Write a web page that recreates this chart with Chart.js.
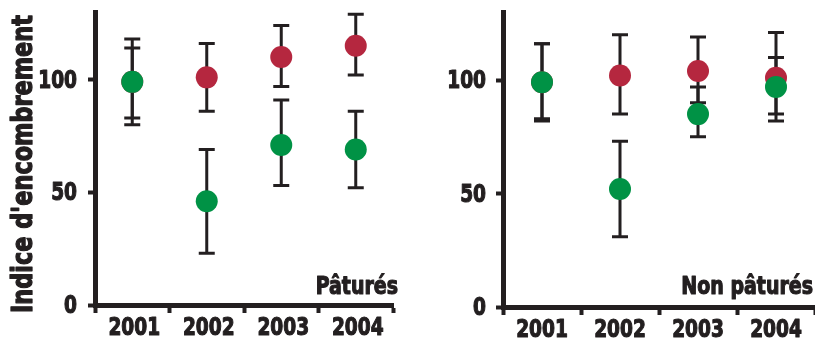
<!DOCTYPE html>
<html>
<head>
<meta charset="utf-8">
<script src="https://cdn.jsdelivr.net/npm/chart.js@4"></script>
<style>
  body { margin: 0; background: #fff; }
  .wrap { position: absolute; top: 0; height: 338px; }
  #left { left: 0; width: 410px; }
  #right { left: 410px; width: 405px; }
</style>
</head>
<body>
<div class="wrap" id="left"><canvas id="chartPat"></canvas></div>
<div class="wrap" id="right"><canvas id="chartNon"></canvas></div>
<script>
const years = ['2001', '2002', '2003', '2004'];
const yTicks = [0, 50, 100];

// Pâturés
const patRed = [99, 101, 110, 115];
const patRedLow = [80, 86, 97, 102];
const patRedHigh = [118, 116, 124, 129];
const patGreen = [99, 46, 71, 69];
const patGreenLow = [83, 23, 53, 52];
const patGreenHigh = [114, 69, 91, 86];

// Non pâturés
const nonRed = [99, 102, 104, 101];
const nonRedLow = [83, 85, 90, 82];
const nonRedHigh = [116, 120, 119, 121];
const nonGreen = [99, 52, 85, 97];
const nonGreenLow = [82, 31, 75, 85];
const nonGreenHigh = [116, 73, 97, 110];

const ink = '#231f20';
const red = '#b5273f';
const green = '#009245';
const fontFam = "'DejaVu Sans Condensed', 'DejaVu Sans', sans-serif";

// error bars behind the dots
const errorBars = {
    id: 'errorBars',
    beforeDatasetsDraw(chart) {
        const ctx = chart.ctx;
        const y = chart.scales.y;
        ctx.save();
        ctx.strokeStyle = ink;
        ctx.lineWidth = 3;
        chart.data.datasets.forEach((ds, i) => {
            const meta = chart.getDatasetMeta(i);
            meta.data.forEach((pt, j) => {
                const top = y.getPixelForValue(ds.high[j]);
                const bot = y.getPixelForValue(ds.low[j]);
                ctx.beginPath();
                ctx.moveTo(pt.x, top); ctx.lineTo(pt.x, bot);
                ctx.moveTo(pt.x - 8, top); ctx.lineTo(pt.x + 8, top);
                ctx.moveTo(pt.x - 8, bot); ctx.lineTo(pt.x + 8, bot);
                ctx.stroke();
            });
        });
        ctx.restore();
    }
};

// squeezed heavy text, the reference uses a black condensed face
function squeezed(ctx, text, x, y, size, sx, align) {
    ctx.save();
    ctx.font = 'bold ' + size + 'px ' + fontFam;
    ctx.fillStyle = ink;
    ctx.strokeStyle = ink;
    ctx.lineWidth = 1.1;
    ctx.lineJoin = 'round';
    ctx.textBaseline = 'alphabetic';
    ctx.textAlign = align;
    ctx.translate(x, y);
    ctx.scale(sx, 1);
    ctx.fillText(text, 0, 0);
    ctx.strokeText(text, 0, 0);
    ctx.restore();
}

// tick labels, axis title and panel caption
const labels = {
    id: 'labels',
    afterDraw(chart, args, opts) {
        const ctx = chart.ctx;
        const a = chart.chartArea;
        const xs = chart.scales.x;
        const ys = chart.scales.y;
        xs.ticks.forEach((t, i) => {
            squeezed(ctx, chart.data.labels[i], xs.getPixelForTick(i) + opts.xShift, a.bottom + 30, 24, 0.86, 'center');
        });
        yTicks.forEach(v => {
            squeezed(ctx, String(v), a.left - opts.yGap, ys.getPixelForValue(v) + 8, 24, 0.86, 'right');
        });
        squeezed(ctx, opts.caption, a.right + opts.capDx, 294, 24, 0.88, 'right');
        if (opts.title) {
            ctx.save();
            ctx.font = 'bold 28px ' + fontFam;
            const w = ctx.measureText(opts.title).width;
            ctx.translate(32, 164);
            ctx.rotate(-Math.PI / 2);
            ctx.scale(298 / w, 1);
            ctx.fillStyle = ink;
            ctx.strokeStyle = ink;
            ctx.lineWidth = 1.3;
            ctx.lineJoin = 'round';
            ctx.textAlign = 'center';
            ctx.textBaseline = 'alphabetic';
            ctx.fillText(opts.title, 0, 0);
            ctx.strokeText(opts.title, 0, 0);
            ctx.restore();
        }
    }
};

function makeChart(id, opts) {
    const ctx = document.getElementById(id).getContext('2d');
    return new Chart(ctx, {
        type: 'line',
        data: {
            labels: years,
            datasets: [
                { data: opts.green, low: opts.greenLow, high: opts.greenHigh, backgroundColor: green, borderColor: green },
                { data: opts.red, low: opts.redLow, high: opts.redHigh, backgroundColor: red, borderColor: red }
            ].map(d => Object.assign(d, { showLine: false, pointRadius: 11, pointBorderWidth: 0, pointHoverRadius: 11, clip: false }))
        },
        options: {
            responsive: true,
            maintainAspectRatio: false,
            animation: false,
            layout: { autoPadding: false, padding: { top: 12, right: opts.padRight, left: 0, bottom: 0 } },
            scales: {
                x: {
                    offset: true,
                    grid: { offset: true, drawOnChartArea: false, tickLength: 8, tickWidth: 4, tickColor: ink },
                    border: { color: ink, width: 5 },
                    ticks: { display: false },
                    afterFit: s => { s.height = opts.xHeight; s.paddingLeft = 0; s.paddingRight = 0; }
                },
                y: {
                    min: 0,
                    max: 130,
                    afterBuildTicks: s => { s.ticks = yTicks.map(v => ({ value: v })); },
                    grid: { drawOnChartArea: false, tickLength: 7, tickWidth: 4, tickColor: ink },
                    border: { color: ink, width: 5 },
                    ticks: { display: false },
                    afterFit: s => { s.width = opts.yWidth; s.paddingTop = 0; s.paddingBottom = 0; }
                }
            },
            plugins: {
                legend: { display: false },
                tooltip: { enabled: false },
                labels: { caption: opts.caption, capDx: opts.capDx, yGap: opts.yGap, xShift: opts.xShift, title: opts.title }
            }
        },
        plugins: [errorBars, labels]
    });
}

makeChart('chartPat', {
    red: patRed, redLow: patRedLow, redHigh: patRedHigh,
    green: patGreen, greenLow: patGreenLow, greenHigh: patGreenHigh,
    title: "Indice d'encombrement", yWidth: 95, yGap: 18, padRight: 17, xHeight: 33, xShift: 2,
    caption: 'Pâturés', capDx: 5
});

makeChart('chartNon', {
    red: nonRed, redLow: nonRedLow, redHigh: nonRedHigh,
    green: nonGreen, greenLow: nonGreenLow, greenHigh: nonGreenHigh,
    yWidth: 93, yGap: 17, padRight: 0, xHeight: 31, xShift: 0,
    caption: 'Non pâturés', capDx: -2
});
</script>
</body>
</html>
